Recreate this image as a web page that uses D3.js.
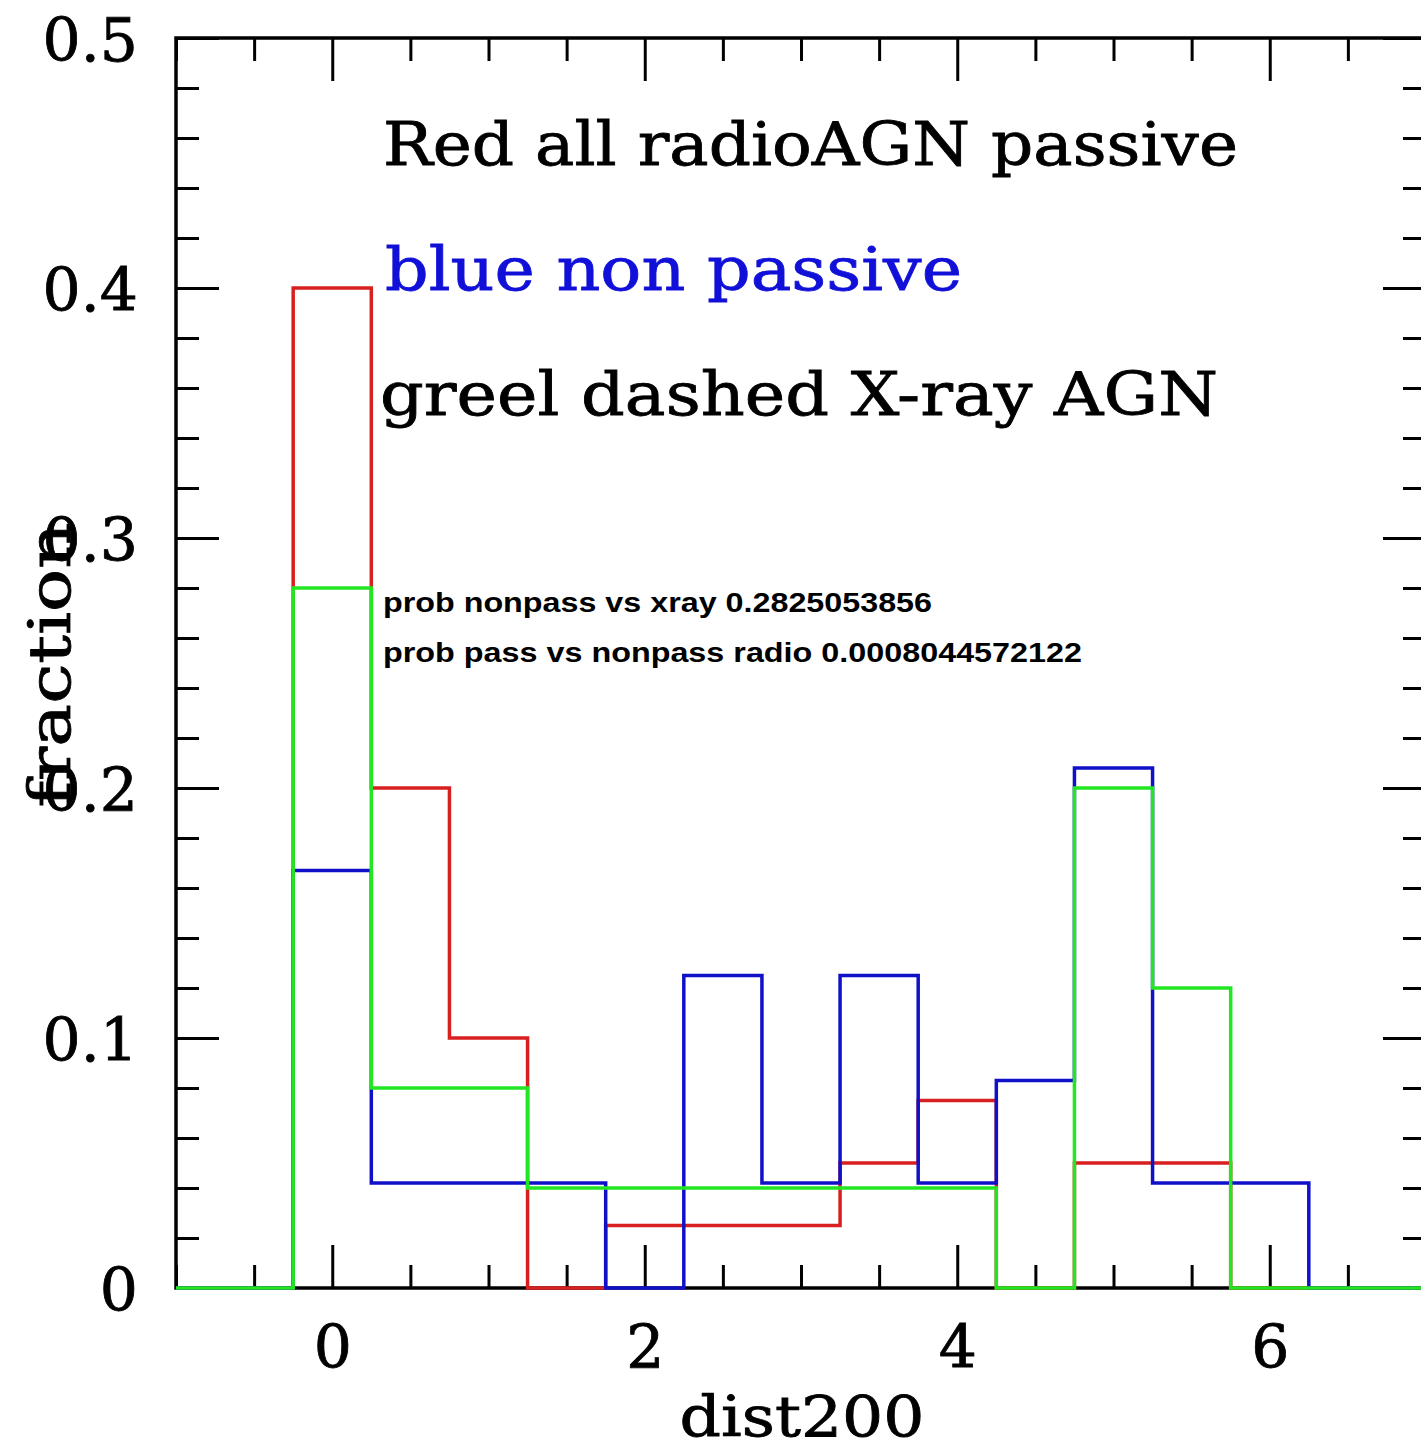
<!DOCTYPE html>
<html>
<head>
<meta charset="utf-8">
<script src="https://cdn.jsdelivr.net/npm/d3@7/dist/d3.min.js"></script>
<style>
  body { margin: 0; background: #fff; }
  svg { display: block; }
</style>
</head>
<body>
<div id="chart"></div>
<script>
// histogram bins, width 0.5, centred on these dist200 values
var binCenters = [0, 0.5, 1, 1.5, 2, 2.5, 3, 3.5, 4, 4.5, 5, 5.5, 6];
var binWidth = 0.5;

// fractions per bin
var redPassive = [0.4, 0.2, 0.1, 0, 0.025, 0.025, 0.025, 0.05, 0.075, 0, 0.05, 0.05, 0];
var blueNonPassive = [0.167, 0.042, 0.042, 0.042, 0, 0.125, 0.042, 0.125, 0.042, 0.083, 0.208, 0.042, 0.042];
var greenXray = [0.28, 0.08, 0.08, 0.04, 0.04, 0.04, 0.04, 0.04, 0.04, 0, 0.2, 0.12, 0];

var xMajor = [0, 2, 4, 6];
var yMajor = [0, 0.1, 0.2, 0.3, 0.4, 0.5];

var legendLines = ["Red all radioAGN passive", "blue non passive", "greel dashed X-ray AGN"];
var probLines = ["prob nonpass vs xray 0.2825053856", "prob pass vs nonpass radio 0.0008044572122"];

var w = 1421, h = 1452;
var plotLeft = 176, plotRight = 1426, plotTop = 38, plotBottom = 1288;

var svg = d3.select("#chart")
    .append("svg")
    .attr("width", w)
    .attr("height", h);

var x = d3.scaleLinear().domain([-1, 7]).range([plotLeft, plotRight]);
var y = d3.scaleLinear().domain([0, 0.5]).range([plotBottom, plotTop]);

var xMinor = d3.range(-1, 7.01, 0.5).filter((d) => xMajor.indexOf(d) < 0);
var yMinor = d3.range(0, 0.501, 0.02).filter((d) => !yMajor.some((m) => Math.abs(m - d) < 1e-6));

var serif = "DejaVu Serif, Liberation Serif, serif";

// frame
svg.append("rect")
    .attr("x", plotLeft)
    .attr("y", plotTop)
    .attr("width", plotRight - plotLeft)
    .attr("height", plotBottom - plotTop)
    .attr("fill", "none")
    .attr("stroke", "black")
    .attr("stroke-width", 3.5);

function styleAxis(g) {
    g.select(".domain").remove();
    g.selectAll(".tick line").attr("stroke", "black").attr("stroke-width", 3);
}

// bottom
svg.append("g")
    .attr("transform", `translate(0,${plotBottom})`)
    .call(d3.axisBottom(x).tickValues(xMajor).tickSize(-43).tickFormat(d3.format("d")))
    .call(styleAxis)
    .call((g) => g.selectAll("text")
        .attr("y", 80)
        .attr("dy", 0)
        .attr("font-family", serif)
        .attr("font-size", 60)
        .attr("stroke", "black")
        .attr("stroke-width", 0.8)
        .attr("fill", "black"));
svg.append("g")
    .attr("transform", `translate(0,${plotBottom})`)
    .call(d3.axisBottom(x).tickValues(xMinor).tickSize(-23).tickFormat(""))
    .call(styleAxis);

// top
svg.append("g")
    .attr("transform", `translate(0,${plotTop})`)
    .call(d3.axisTop(x).tickValues(xMajor).tickSize(-43).tickFormat(""))
    .call(styleAxis);
svg.append("g")
    .attr("transform", `translate(0,${plotTop})`)
    .call(d3.axisTop(x).tickValues(xMinor).tickSize(-23).tickFormat(""))
    .call(styleAxis);

// left
svg.append("g")
    .attr("transform", `translate(${plotLeft},0)`)
    .call(d3.axisLeft(y).tickValues(yMajor).tickSize(-43).tickPadding(38)
        .tickFormat((d) => d === 0 ? "0" : d3.format(".1f")(d)))
    .call(styleAxis)
    .call((g) => g.selectAll("text")
        .attr("dy", "0.37em")
        .attr("font-family", serif)
        .attr("font-size", 60)
        .attr("stroke", "black")
        .attr("stroke-width", 0.8)
        .attr("fill", "black"));
svg.append("g")
    .attr("transform", `translate(${plotLeft},0)`)
    .call(d3.axisLeft(y).tickValues(yMinor).tickSize(-23).tickFormat(""))
    .call(styleAxis);

// right
svg.append("g")
    .attr("transform", `translate(${plotRight},0)`)
    .call(d3.axisRight(y).tickValues(yMajor).tickSize(-43).tickFormat(""))
    .call(styleAxis);
svg.append("g")
    .attr("transform", `translate(${plotRight},0)`)
    .call(d3.axisRight(y).tickValues(yMinor).tickSize(-23).tickFormat(""))
    .call(styleAxis);

// step histograms
function stepPoints(values) {
    var pts = [[-1, 0]];
    values.forEach((v, i) => pts.push([binCenters[i] - binWidth / 2, v]));
    var last = binCenters[binCenters.length - 1] + binWidth / 2;
    pts.push([last, 0]);
    pts.push([7, 0]);
    return pts;
}

var stepLine = d3.line()
    .x((d) => x(d[0]))
    .y((d) => y(d[1]))
    .curve(d3.curveStepAfter);

var series = [
    { values: redPassive, color: "#d82020" },
    { values: blueNonPassive, color: "#1010c8" },
    { values: greenXray, color: "#22e622" }
];

svg.selectAll(".hist")
    .data(series)
    .enter()
    .append("path")
    .attr("class", "hist")
    .attr("d", (d) => stepLine(stepPoints(d.values)))
    .attr("fill", "none")
    .attr("stroke", (d) => d.color)
    .attr("stroke-width", 3.5);

// legend texts
var legendSpec = [
    { x: 383, y: 165, len: 855, color: "black" },
    { x: 385, y: 290, len: 577, color: "#1010d8" },
    { x: 380, y: 415, len: 838, color: "black" }
];
svg.selectAll(".legend")
    .data(legendLines)
    .enter()
    .append("text")
    .attr("class", "legend")
    .attr("x", (d, i) => legendSpec[i].x)
    .attr("y", (d, i) => legendSpec[i].y)
    .attr("textLength", (d, i) => legendSpec[i].len)
    .attr("lengthAdjust", "spacingAndGlyphs")
    .attr("font-family", serif)
    .attr("font-size", 60)
    .attr("fill", (d, i) => legendSpec[i].color)
    .attr("stroke", (d, i) => legendSpec[i].color)
    .attr("stroke-width", 0.8)
    .text((d) => d);

var probSpec = [{ y: 612, len: 549 }, { y: 662, len: 699 }];
svg.selectAll(".prob")
    .data(probLines)
    .enter()
    .append("text")
    .attr("class", "prob")
    .attr("x", 383)
    .attr("y", (d, i) => probSpec[i].y)
    .attr("textLength", (d, i) => probSpec[i].len)
    .attr("lengthAdjust", "spacingAndGlyphs")
    .attr("font-family", "Liberation Sans, Arial, sans-serif")
    .attr("font-weight", "bold")
    .attr("font-size", 28)
    .attr("fill", "black")
    .text((d) => d);

// axis titles
svg.append("text")
    .attr("x", 802)
    .attr("y", 1436)
    .attr("text-anchor", "middle")
    .attr("textLength", 245)
    .attr("lengthAdjust", "spacingAndGlyphs")
    .attr("font-family", serif)
    .attr("font-size", 56)
    .attr("fill", "black")
    .attr("stroke", "black")
    .attr("stroke-width", 0.8)
    .text("dist200");

svg.append("text")
    .attr("transform", "translate(70,665) rotate(-90)")
    .attr("text-anchor", "middle")
    .attr("textLength", 285)
    .attr("lengthAdjust", "spacingAndGlyphs")
    .attr("font-family", serif)
    .attr("font-size", 58)
    .attr("fill", "black")
    .attr("stroke", "black")
    .attr("stroke-width", 0.8)
    .text("fraction");
</script>
</body>
</html>
